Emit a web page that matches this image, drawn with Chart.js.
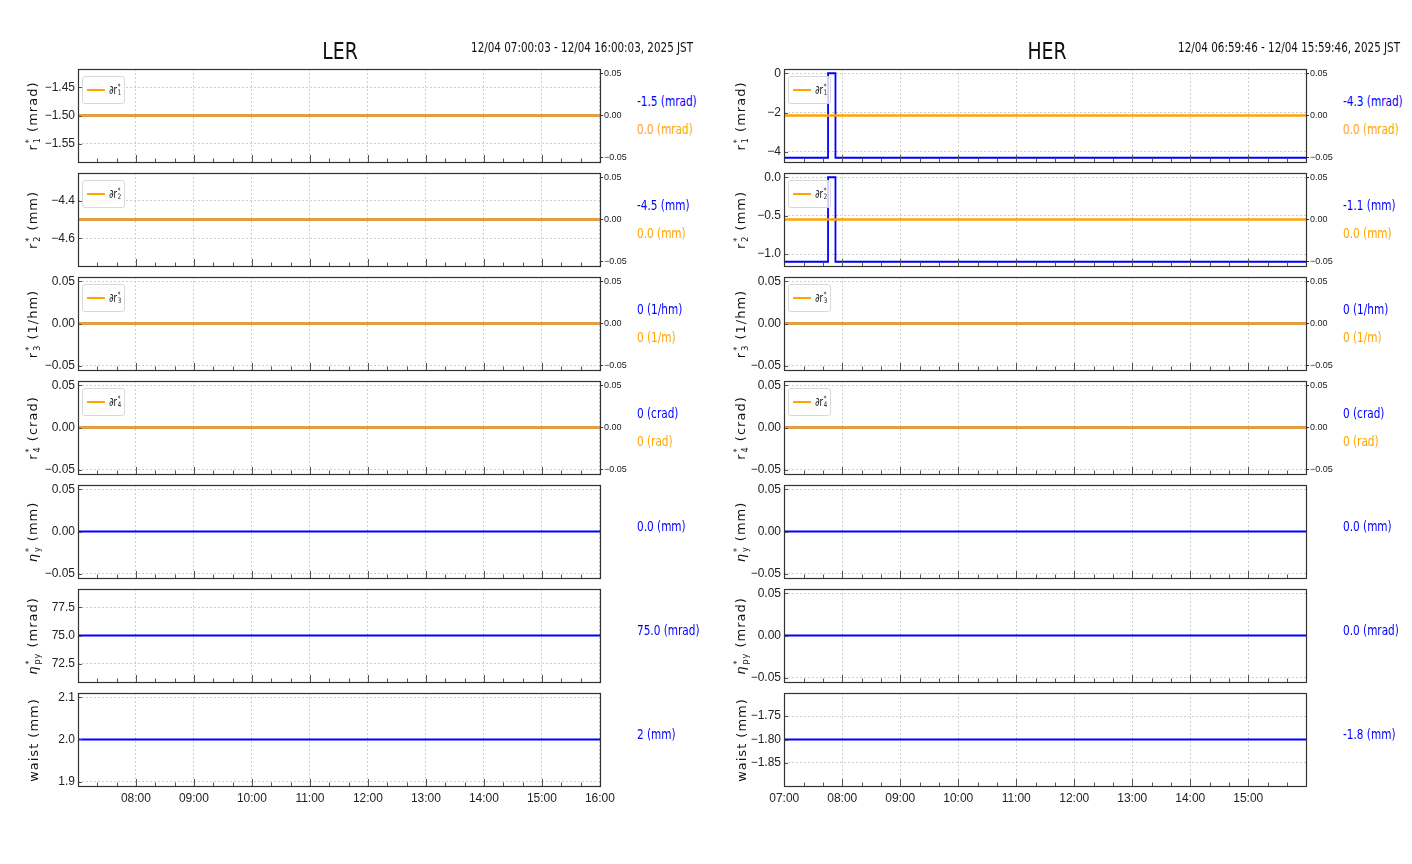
<!DOCTYPE html>
<html>
<head>
<meta charset="utf-8">
<title>LER / HER</title>
<script src="https://cdn.jsdelivr.net/npm/chart.js@4.4.1/dist/chart.umd.min.js"></script>
<style>
    body { margin: 0; background: #fff; }
    #page {
        position: relative; width: 1412px; height: 864px; overflow: hidden;
        font-family: 'DejaVu Sans', sans-serif;
        color: #111;
    }
    canvas { position: absolute; }
    .title {
        position: absolute; font-size: 23px; white-space: nowrap;
        transform-origin: 50% 50%; transform: translate(-50%, -50%) scaleX(0.82);
    }
    .range {
        position: absolute; font-size: 14px; white-space: nowrap;
        transform-origin: 100% 50%; transform: translate(-100%, -50%) scaleX(0.74);
    }
    .ylab {
        position: absolute; font-size: 13px; letter-spacing: 1px;
        transform: translate(-50%, -50%) rotate(-90deg); white-space: nowrap; z-index: 2;
    }
    .val {
        position: absolute; font-size: 14px; white-space: nowrap; z-index: 2;
        transform-origin: 0 50%; transform: translateY(-50%) scaleX(0.75);
    }
    .legend {
        position: absolute; width: 43px; height: 28px; box-sizing: border-box; z-index: 2;
        background: rgba(255, 255, 255, 0.8); border: 1px solid #d9d9d9; border-radius: 3px;
        font-size: 12px; display: flex; align-items: center;
    }
    .legend .swatch { width: 18px; height: 2px; background: #ffa500; margin: 0 4px 0 4px; flex: none; }
    .legend .lt { display: inline-block; transform-origin: 0 50%; transform: scaleX(0.72); white-space: nowrap; }
    .ss {
        display: inline-flex; flex-direction: column; vertical-align: middle;
        font-size: 0.62em; line-height: 0.9; margin-left: 1px;
    }
</style>
</head>
<body>
<div id="page"></div>

<script>
// ---- data (times as HH:MM:SS, JST, 12/04/2025) ----
const lerWindow = ['07:00:03', '16:00:03'];
const herWindow = ['06:59:46', '15:59:46'];

const lerTimes = ['07:00:03', '16:00:03'];
const lerR1 = [-1.5, -1.5];
const lerDR1 = [0, 0];
const lerR2 = [-4.5, -4.5];
const lerDR2 = [0, 0];
const lerR3 = [0, 0];
const lerDR3 = [0, 0];
const lerR4 = [0, 0];
const lerDR4 = [0, 0];
const lerNy = [0, 0];
const lerNpy = [75.0, 75.0];
const lerWaist = [2.0, 2.0];

// HER r1 / r2 jump to 0 for a few minutes just before 08:00
const herTimes = ['06:59:46', '07:45:20', '07:45:20', '07:53:00', '07:53:00', '15:59:46'];
const herR1 = [-4.3, -4.3, 0, 0, -4.3, -4.3];
const herDR1 = [0, 0, 0, 0, 0, 0];
const herR2 = [-1.1, -1.1, 0, 0, -1.1, -1.1];
const herDR2 = [0, 0, 0, 0, 0, 0];
const herR3 = [0, 0, 0, 0, 0, 0];
const herDR3 = [0, 0, 0, 0, 0, 0];
const herR4 = [0, 0, 0, 0, 0, 0];
const herDR4 = [0, 0, 0, 0, 0, 0];
const herNy = [0, 0, 0, 0, 0, 0];
const herNpy = [0, 0, 0, 0, 0, 0];
const herWaist = [-1.8, -1.8, -1.8, -1.8, -1.8, -1.8];

// axis limits and ticks
const lerYRange = [[-1.5825, -1.4175], [-4.7475, -4.2525], [-0.055, 0.055], [-0.055, 0.055], [-0.055, 0.055], [70.875, 79.125], [1.89, 2.11]];
const herYRange = [[-4.515, 0.215], [-1.155, 0.055], [-0.055, 0.055], [-0.055, 0.055], [-0.055, 0.055], [-0.055, 0.055], [-1.899, -1.701]];
const lerYTicks = [[-1.55, -1.50, -1.45], [-4.6, -4.4], [-0.05, 0, 0.05], [-0.05, 0, 0.05], [-0.05, 0, 0.05], [72.5, 75.0, 77.5], [1.9, 2.0, 2.1]];
const herYTicks = [[-4, -2, 0], [-1.0, -0.5, 0], [-0.05, 0, 0.05], [-0.05, 0, 0.05], [-0.05, 0, 0.05], [-0.05, 0, 0.05], [-1.85, -1.80, -1.75]];
const lerYDecimals = [2, 1, 2, 2, 2, 1, 1];
const herYDecimals = [0, 1, 2, 2, 2, 2, 2];
const deltaRange = [-0.055, 0.055];
const deltaTicks = [-0.05, 0, 0.05];
const hourTicks = [7, 8, 9, 10, 11, 12, 13, 14, 15, 16];
const hourLabels = ['07:00', '08:00', '09:00', '10:00', '11:00', '12:00', '13:00', '14:00', '15:00', '16:00'];

// texts
const yLabels = [
    ['r', '1', '(mrad)'], ['r', '2', '(mm)'], ['r', '3', '(1/hm)'], ['r', '4', '(crad)'],
    ['η', 'y', '(mm)'], ['η', 'py', '(mrad)'], ['waist', '', '(mm)']
];
const lerValues = [['-1.5 (mrad)', '0.0 (mrad)'], ['-4.5 (mm)', '0.0 (mm)'], ['0 (1/hm)', '0 (1/m)'], ['0 (crad)', '0 (rad)'], ['0.0 (mm)'], ['75.0 (mrad)'], ['2 (mm)']];
const herValues = [['-4.3 (mrad)', '0.0 (mrad)'], ['-1.1 (mm)', '0.0 (mm)'], ['0 (1/hm)', '0 (1/m)'], ['0 (crad)', '0 (rad)'], ['0.0 (mm)'], ['0.0 (mrad)'], ['-1.8 (mm)']];

// ---- layout ----
const PLOT_W = 522, PLOT_H = 93, ROW_TOP = 69, ROW_PITCH = 104;
const LPAD = 60, RPAD = 36, TPAD = 14, BPAD = 14, XAXIS_H = 26;
const TICK_FONT = "'Liberation Sans', Arial, sans-serif";
const BLUE = '#0000ff', ORANGE = '#ffa500';

function hrs(s) {
    const [h, m, sec] = s.split(':').map(Number);
    return h + m / 60 + (sec || 0) / 3600;
}
function pts(times, vals) {
    return times.map((t, i) => ({ x: hrs(t), y: vals[i] }));
}
function fmt(v, dec) {
    return v.toFixed(dec).replace('-', '\u2212');
}

// frame + matplotlib-like inward ticks
const frameTicks = {
    id: 'frameTicks',
    afterDraw(chart) {
        const { ctx, chartArea: a, scales } = chart;
        const x = scales.x, y = scales.y;
        ctx.save();
        ctx.strokeStyle = '#555';
        ctx.lineWidth = 1;
        ctx.beginPath();
        // minor ticks every 20 min, major every hour
        for (let m = Math.ceil(x.min * 3); m <= x.max * 3; m++) {
            const px = Math.round(x.getPixelForValue(m / 3)) + 0.5;
            const len = m % 3 === 0 ? 7 : 3.5;
            ctx.moveTo(px, a.bottom);
            ctx.lineTo(px, a.bottom - len);
        }
        y.ticks.forEach(t => {
            const py = Math.round(y.getPixelForValue(t.value)) + 0.5;
            ctx.moveTo(a.left, py);
            ctx.lineTo(a.left + 4, py);
        });
        ctx.stroke();
        ctx.strokeStyle = '#333';
        ctx.lineWidth = 1.2;
        ctx.strokeRect(Math.round(a.left) + 0.5, Math.round(a.top) + 0.5, Math.round(a.right - a.left), Math.round(a.bottom - a.top));
        ctx.restore();
    }
};

const page = document.getElementById('page');

function addDiv(cls, html, left, top, color) {
    const d = document.createElement('div');
    d.className = cls;
    d.innerHTML = html;
    d.style.left = left + 'px';
    d.style.top = top + 'px';
    if (color) d.style.color = color;
    page.appendChild(d);
    return d;
}

function drawPanel(opt) {
    const isBottom = opt.row === 6;
    const hasDelta = !!opt.delta;
    const rowTop = ROW_TOP + opt.row * ROW_PITCH;
    const canvas = document.createElement('canvas');
    const w = LPAD + PLOT_W + RPAD;
    const h = TPAD + PLOT_H + (isBottom ? XAXIS_H : BPAD);
    canvas.width = w; canvas.height = h;
    canvas.style.left = (opt.plotLeft - LPAD) + 'px';
    canvas.style.top = (rowTop - TPAD) + 'px';
    page.appendChild(canvas);

    const xMin = hrs(opt.window[0]), xMax = hrs(opt.window[1]);
    const datasets = [{
        data: pts(opt.times, opt.values), yAxisID: 'y', order: 1,
        borderColor: BLUE, borderWidth: 1.8, pointRadius: 0, tension: 0
    }];
    if (hasDelta) {
        datasets.push({
            data: pts(opt.times, opt.delta), yAxisID: 'y2', order: 0,
            borderColor: ORANGE, borderWidth: 2.6, pointRadius: 0, tension: 0
        });
    }

    new Chart(canvas, {
        type: 'line',
        data: { datasets },
        options: {
            responsive: false, animation: false,
            layout: { padding: { top: TPAD, bottom: isBottom ? 0 : BPAD, left: 0, right: 0 } },
            plugins: { legend: { display: false }, tooltip: { enabled: false } },
            scales: {
                x: {
                    type: 'linear', min: xMin, max: xMax,
                    afterBuildTicks: s => { s.ticks = hourTicks.filter(v => v >= xMin && v <= xMax).map(v => ({ value: v })); },
                    afterFit: s => { s.height = isBottom ? XAXIS_H : 0; },
                    ticks: {
                        display: isBottom, autoSkip: false, maxRotation: 0, padding: 5, color: '#222',
                        font: { family: TICK_FONT, size: 12 },
                        callback: v => hourLabels[hourTicks.indexOf(v)]
                    },
                    grid: { color: '#c4c4c4', lineWidth: 0.8, drawTicks: false },
                    border: { display: false, dash: [2, 2] }
                },
                y: {
                    position: 'left', min: opt.range[0], max: opt.range[1],
                    afterBuildTicks: s => { s.ticks = opt.ticks.map(v => ({ value: v })); },
                    afterFit: s => { s.width = LPAD; },
                    ticks: {
                        padding: 3, color: '#222', font: { family: TICK_FONT, size: 12 },
                        callback: v => fmt(v, opt.dec)
                    },
                    grid: { color: '#c4c4c4', lineWidth: 0.8, drawTicks: false },
                    border: { display: false, dash: [2, 2] }
                },
                y2: {
                    position: 'right', min: deltaRange[0], max: deltaRange[1],
                    afterBuildTicks: s => { s.ticks = deltaTicks.map(v => ({ value: v })); },
                    afterFit: s => { s.width = RPAD; },
                    ticks: {
                        display: hasDelta, padding: 1, color: '#222', font: { family: TICK_FONT, size: 9 },
                        callback: v => fmt(v, 2)
                    },
                    grid: { display: hasDelta, drawOnChartArea: false, drawTicks: true, tickLength: 3, color: '#333' },
                    border: { display: false }
                }
            }
        },
        plugins: [frameTicks]
    });

    // y axis title
    const lab = yLabels[opt.row];
    const sym = lab[0] === 'η' ? '<i>η</i>' : lab[0];
    const stack = lab[1] ? `<span class="ss"><span>*</span><span>${lab[1]}</span></span>` : '';
    addDiv('ylab', `${sym}${stack} ${lab[2]}`, opt.labelX, rowTop + PLOT_H / 2);

    // current value annotations
    const vals = opt.texts[opt.row];
    if (vals.length === 2) {
        addDiv('val', vals[0], opt.valueX, rowTop + 32, BLUE);
        addDiv('val', vals[1], opt.valueX, rowTop + 60, ORANGE);
    } else {
        addDiv('val', vals[0], opt.valueX, rowTop + 41, BLUE);
    }

    // legend for delta series
    if (hasDelta) {
        addDiv('legend', `<span class="swatch"></span><span class="lt">∂r<span class="ss"><span>*</span><span>${opt.row + 1}</span></span></span>`,
            opt.plotLeft + 4, rowTop + 7);
    }
}

const ler = { values: [lerR1, lerR2, lerR3, lerR4, lerNy, lerNpy, lerWaist], delta: [lerDR1, lerDR2, lerDR3, lerDR4] };
const her = { values: [herR1, herR2, herR3, herR4, herNy, herNpy, herWaist], delta: [herDR1, herDR2, herDR3, herDR4] };

for (let r = 0; r < 7; r++) {
    drawPanel({
        row: r, plotLeft: 78, labelX: 33, valueX: 637, window: lerWindow, times: lerTimes,
        values: ler.values[r], delta: ler.delta[r], range: lerYRange[r], ticks: lerYTicks[r], dec: lerYDecimals[r], texts: lerValues
    });
    drawPanel({
        row: r, plotLeft: 784, labelX: 741, valueX: 1343, window: herWindow, times: herTimes,
        values: her.values[r], delta: her.delta[r], range: herYRange[r], ticks: herYTicks[r], dec: herYDecimals[r], texts: herValues
    });
}

// titles
addDiv('title', 'LER', 340, 51);
addDiv('title', 'HER', 1047, 51);
addDiv('range', '12/04 07:00:03 - 12/04 16:00:03, 2025 JST', 693, 47);
addDiv('range', '12/04 06:59:46 - 12/04 15:59:46, 2025 JST', 1400, 47);
</script>
</body>
</html>
